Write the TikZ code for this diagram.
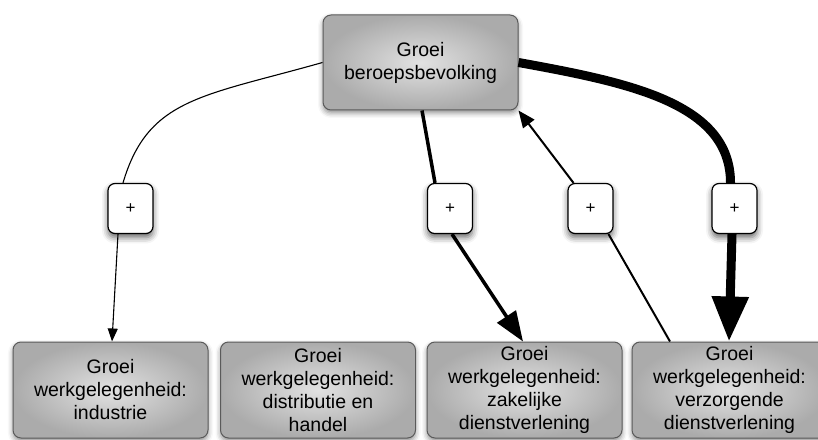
\documentclass[tikz,border=0pt]{standalone}
\usepackage{fontspec}
\setmainfont{Liberation Sans}
\usepackage{tikz}
\usetikzlibrary{arrows.meta,shadows.blur}
\definecolor{boxlight}{HTML}{E2E2E2}
\definecolor{boxdark}{HTML}{ABABAB}
\definecolor{edge}{HTML}{5A5A5A}

\begin{document}
\begin{tikzpicture}[
  x=1pt,y=1pt,
  factor/.style={draw=edge,line width=1pt,rounded corners=8pt,shade,inner color=boxlight,
               outer color=boxdark,minimum width=195pt,minimum height=96pt,inner sep=2pt,
               align=center,font=\fontsize{19.5}{23}\selectfont,
               blur shadow={shadow xshift=0pt,shadow yshift=-3pt,shadow blur radius=5pt,shadow opacity=45}},
  sign/.style={draw=black,fill=white,line width=1.2pt,rounded corners=7pt,minimum width=45pt,
               minimum height=50pt,inner sep=0pt,font=\fontsize{17}{17}\selectfont,
               blur shadow={shadow xshift=0pt,shadow yshift=-4pt,shadow blur radius=6pt,shadow opacity=60}},
  weak/.style={line width=1.1pt},
  mid/.style={line width=2pt},
  firm/.style={line width=3.5pt},
  massive/.style={line width=9pt}]
  \useasboundingbox (0,0) rectangle (818,439);
  % factors
  \node[factor,minimum height=95pt] (top) at (420.5,376.5) {Groei\\beroepsbevolking};
  \node[factor] (ind) at (110.5,49) {Groei\\werkgelegenheid:\\industrie};
  \node[factor] (dis) at (318,49)   {Groei\\werkgelegenheid:\\distributie en\\handel};
  \node[factor] (zak) at (524.5,49) {Groei\\werkgelegenheid:\\zakelijke\\dienstverlening};
  \node[factor] (ver) at (729.5,49) {Groei\\werkgelegenheid:\\verzorgende\\dienstverlening};
  % links
  \node[sign] (p1) at (130.5,230.5) {+};
  \node[sign] (p2) at (450,230.5)   {+};
  \node[sign] (p3) at (590.5,230.5) {+};
  \node[sign] (p4) at (734.5,230.5) {+};
  \draw[weak] (top.west) .. controls +(-120,-34) and +(25,85) .. ([xshift=-7.5]p1.north);
  \draw[weak,-{Triangle[length=13pt,width=10pt]}] ([xshift=-12.5]p1.south) -- ([xshift=1.5]ind.north);
  \draw[firm] ([xshift=1.5]top.south) -- ([xshift=-15]p2.north);
  \draw[firm,-{Triangle[length=30pt,width=22pt]}] ([xshift=2]p2.south) -- ([xshift=-1.5]zak.north);
  \draw[mid] ([xshift=-59.5]ver.north) -- ([xshift=18]p3.south);
  \draw[mid,-{Triangle[length=17pt,width=14pt]}] ([xshift=-17]p3.north) -- (top.south east);
  \draw[massive] (top.east) .. controls +(110,-20) and +(0,80) .. ([xshift=-4]p4.north);
  \draw[massive,-{Triangle[length=45pt,width=35pt]}] ([xshift=-2.5]p4.south) -- ([xshift=-0.5]ver.north);
\end{tikzpicture}
\end{document}
